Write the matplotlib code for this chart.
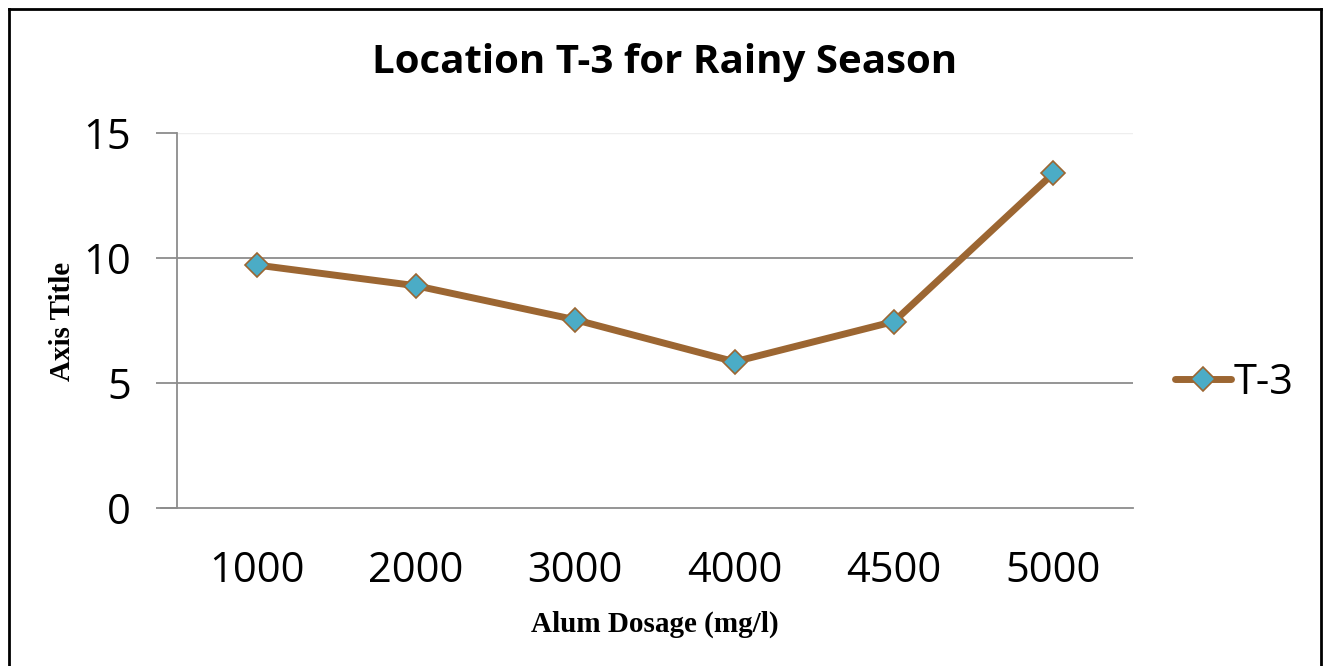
import matplotlib.pyplot as plt
from matplotlib.lines import Line2D

# data
dosage = ['1000', '2000', '3000', '4000', '4500', '5000']
t3 = [9.72, 8.89, 7.53, 5.85, 7.46, 13.39]

W, H = 1327, 666
fig = plt.figure(figsize=(W / 100, H / 100), dpi=100)
ax = fig.add_axes([177 / W, 1 - 508 / H, (1133 - 177) / W, (508 - 133) / H])

line_col = '#9C6632'
x = range(len(dosage))
ax.plot(x, t3, color=line_col, lw=5, marker='D', ms=12, mfc='#4BACC6',
        mec=line_col, mew=1.2, label='T-3', solid_capstyle='round')

ax.set_xlim(-0.5, len(dosage) - 0.5)
ax.set_ylim(0, 15)
ax.set_yticks([0, 5, 10, 15])
ax.set_xticks(list(x))
ax.set_xticklabels(dosage)

for y in [5, 10]:
    ax.axhline(y, color='#8c8c8c', lw=1.3, zorder=0)
ax.axhline(15, color='#eeeeee', lw=1, zorder=0)

for s in ['top', 'right', 'bottom']:
    ax.spines[s].set_visible(False)
ax.spines['left'].set_color('#8c8c8c')
ax.spines['left'].set_linewidth(1.3)
# x axis line runs a little past the y axis
fig.add_artist(Line2D([161 / W, 1133 / W], [1 - 508 / H, 1 - 508 / H],
                      color='#8c8c8c', lw=1.3))

ax.tick_params(axis='y', length=15, width=1.3, color='#8c8c8c', pad=18,
               labelsize=30)
ax.tick_params(axis='x', length=0, pad=30, labelsize=30)
for lab in ax.get_xticklabels() + ax.get_yticklabels():
    lab.set_family('Open Sans')

fig.text(665 / W, 1 - 63 / H, 'Location T-3 for Rainy Season', ha='center',
         va='center', fontsize=29, fontweight='bold', family='Open Sans')
fig.text(62 / W, 1 - 321 / H, 'Axis Title', rotation=90, ha='center',
         va='center', fontsize=21, fontweight='bold', family='Liberation Serif')
fig.text(655 / W, 1 - 624 / H, 'Alum Dosage (mg/l)', ha='center', va='center',
         fontsize=21, fontweight='bold', family='Liberation Serif')

ax.legend(loc='center left', bbox_to_anchor=(1175 / W, 1 - 383 / H),
          bbox_transform=fig.transFigure, frameon=False,
          prop={'family': 'Open Sans', 'size': 30},
          handlelength=1.35, handletextpad=0.05, borderpad=0, borderaxespad=0)

# outer border of the chart (bottom edge is cut off)
fig.add_artist(Line2D([9 / W, 9 / W], [0, 1 - 9 / H], color='black', lw=2))
fig.add_artist(Line2D([1321 / W, 1321 / W], [0, 1 - 9 / H], color='black', lw=2))
fig.add_artist(Line2D([9 / W, 1321 / W], [1 - 9 / H, 1 - 9 / H], color='black', lw=2))

fig.savefig('out.png', dpi=100)
